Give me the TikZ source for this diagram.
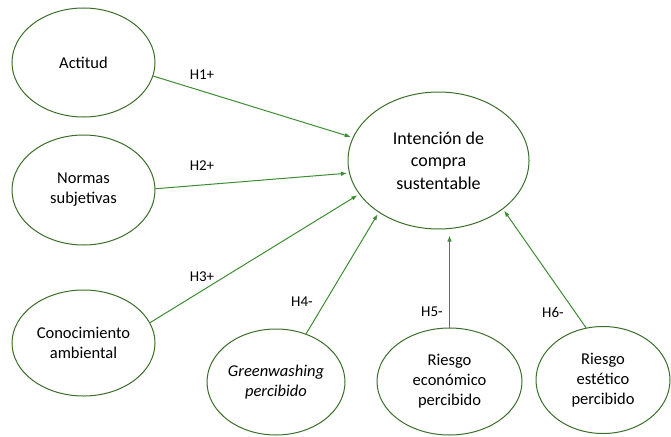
\documentclass[tikz,border=0pt]{standalone}
\usepackage{fontspec}
\setmainfont{Carlito}
\usetikzlibrary{shapes.geometric,arrows.meta,positioning}
\definecolor{ovalGreen}{HTML}{3B6E2A}
\definecolor{arrGreen}{HTML}{3C8C32}

\tikzset{
    construct/.style={ellipse, draw=ovalGreen, line width=1pt, inner sep=0pt,
                      align=center, font=\fontsize{16.5}{20}\selectfont},
    hyp/.style={arrGreen, line width=1pt, -{Latex[length=6pt,width=4.5pt]},
                shorten >=2pt},
    hlabel/.style={font=\fontsize{15}{18}\selectfont}
}

\begin{document}
\begin{tikzpicture}[x=1pt, y=-1pt]
    \useasboundingbox (0,0) rectangle (671,436);
    % predictors
    \node[construct, minimum width=143pt, minimum height=109pt] (act) at (83.5,62.5) {Actitud};
    \node[construct, minimum width=143pt, minimum height=110pt] (norm) at (83.5,190) {Normas\\subjetivas};
    \node[construct, minimum width=143pt, minimum height=106pt] (conoc) at (83.5,343) {Conocimiento\\ambiental};
    \node[construct, minimum width=138pt, minimum height=106pt] (green) at (276,382) {\itshape Greenwashing\\\itshape percibido};
    \node[construct, minimum width=145pt, minimum height=107pt] (eco) at (449.5,381.5) {Riesgo\\econ\'omico\\percibido};
    \node[construct, minimum width=134pt, minimum height=107pt] (este) at (603,380) {Riesgo\\est\'etico\\percibido};
    % outcome
    \node[construct, minimum width=181pt, minimum height=137pt,
          font=\fontsize{18}{22.5}\selectfont] (int) at (438.5,160.5) {Intenci\'on de\\compra\\sustentable};
    % hypotheses
    \draw[hyp] (act.-11) -- (int.165);
    \draw[hyp] (norm.1) -- (int.-172);
    \draw[hyp] (conoc.17) -- (int.-157);
    \draw[hyp] (green.58) -- (int.-139);
    \draw[hyp, shorten >=6pt] (eco.north) -- (eco.north |- int.south);
    \draw[hyp] (este.108) -- (int.-37);
    % labels
    \node[hlabel] (h1) at (202,75) {H1+};
    \node[hlabel] (h2) at (202,166) {H2+};
    \node[hlabel] (h3) at (202,277) {H3+};
    \node[hlabel] (h4) at (302,302) {H4-};
    \node[hlabel] (h5) at (432,312) {H5-};
    \node[hlabel] (h6) at (553,312) {H6-};
\end{tikzpicture}
\end{document}
